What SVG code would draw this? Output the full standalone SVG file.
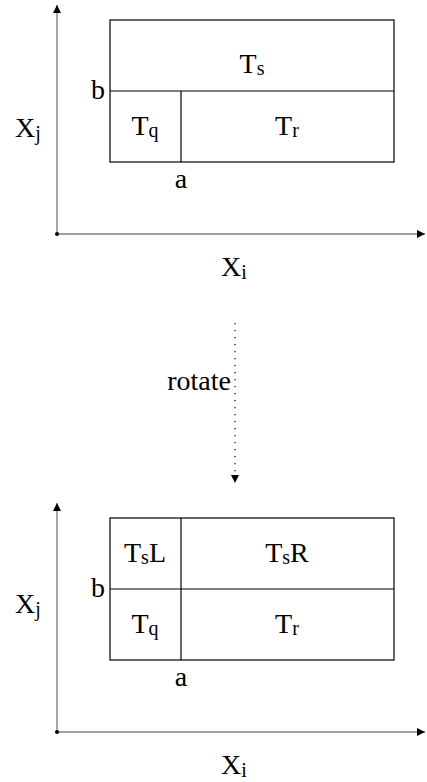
<svg xmlns="http://www.w3.org/2000/svg" width="427" height="782" viewBox="0 0 427 782">
<style>
.axis{stroke:#808080;stroke-width:1.4;fill:none}
.box{stroke:#000;stroke-width:1.2;fill:#fff}
.div{stroke:#000;stroke-width:1.2;fill:none}
</style>
<defs>
<marker id="ah" viewBox="0 0 10 10" refX="10" refY="5" markerWidth="8" markerHeight="8" markerUnits="userSpaceOnUse" orient="auto">
<path d="M0,0 L10,5 L0,10 Z" fill="#000"/>
</marker>
</defs>
<g id="connectors">
<line class="axis" x1="57" y1="234" x2="57" y2="5" marker-end="url(#ah)"/>
<line class="axis" x1="57" y1="234" x2="425" y2="234" marker-end="url(#ah)"/>
<circle cx="57" cy="234" r="2" fill="#000"/>
<line class="axis" x1="57" y1="732" x2="57" y2="503" marker-end="url(#ah)"/>
<line class="axis" x1="57" y1="732" x2="425" y2="732" marker-end="url(#ah)"/>
<circle cx="57" cy="732" r="2" fill="#000"/>
<line x1="235" y1="323" x2="235" y2="483" stroke="#000" stroke-width="1.2" stroke-dasharray="1.2,5.8" marker-end="url(#ah)"/>
</g>
<g id="top-diagram" font-family="Liberation Serif" font-size="28" fill="#000" text-anchor="middle">
<rect class="box" x="110" y="20" width="284" height="142"/>
<line class="div" x1="110" y1="91" x2="394" y2="91"/>
<line class="div" x1="181" y1="91" x2="181" y2="162"/>
<text x="252" y="73">T<tspan font-size="20" dy="2">s</tspan></text>
<text x="145" y="135">T<tspan font-size="20" dy="2">q</tspan></text>
<text x="287" y="135">T<tspan font-size="20" dy="2">r</tspan></text>
<text x="98" y="99">b</text>
<text x="181" y="188">a</text>
<text x="28" y="137">X<tspan font-size="20" dy="3">j</tspan></text>
<text x="234" y="276">X<tspan font-size="20" dy="3">i</tspan></text>
</g>
<g id="rotate-label" font-family="Liberation Serif" font-size="28" fill="#000" text-anchor="middle">
<text x="199" y="390">rotate</text>
</g>
<g id="bottom-diagram" font-family="Liberation Serif" font-size="28" fill="#000" text-anchor="middle">
<rect class="box" x="110" y="518" width="284" height="142"/>
<line class="div" x1="110" y1="589" x2="394" y2="589"/>
<line class="div" x1="181" y1="518" x2="181" y2="660"/>
<text x="145" y="562">T<tspan font-size="20" dy="2">s</tspan><tspan dy="-2">L</tspan></text>
<text x="287" y="562">T<tspan font-size="20" dy="2">s</tspan><tspan dy="-2">R</tspan></text>
<text x="145" y="633">T<tspan font-size="20" dy="2">q</tspan></text>
<text x="287" y="633">T<tspan font-size="20" dy="2">r</tspan></text>
<text x="98" y="597">b</text>
<text x="181" y="686">a</text>
<text x="28" y="613">X<tspan font-size="20" dy="3">j</tspan></text>
<text x="234" y="774">X<tspan font-size="20" dy="3">i</tspan></text>
</g>
</svg>
